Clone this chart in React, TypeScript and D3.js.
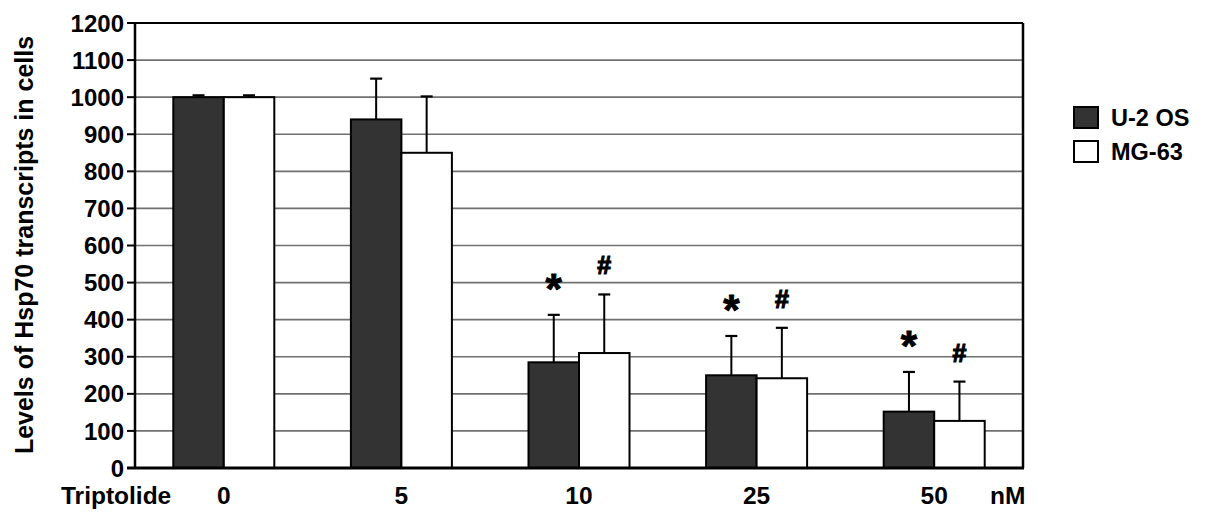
import React from "react";
import * as d3 from "d3";

const categories = ["0", "5", "10", "25", "50"];
const seriesNames = ["U-2 OS", "MG-63"];
const u2osValues = [1000, 940, 285, 250, 152];
const u2osErrors = [5, 110, 128, 106, 107];
const mg63Values = [1000, 850, 310, 242, 127];
const mg63Errors = [5, 152, 158, 136, 106];
const u2osMarks = ["", "", "*", "*", "*"];
const mg63Marks = ["", "", "#", "#", "#"];
const yTicks = [0, 100, 200, 300, 400, 500, 600, 700, 800, 900, 1000, 1100, 1200];

const W = 1205, H = 522;
const M = { left: 135, right: 1023, top: 23, bottom: 468 };
const FONT = "'Liberation Sans', Arial, sans-serif";
const DARK = "#333333";

export default function App() {
  const x = d3.scaleBand<string>().domain(categories).range([M.left, M.right]).paddingInner(0).paddingOuter(0);
  const y = d3.scaleLinear().domain([0, 1200]).range([M.bottom, M.top]);
  const bw = 50.5;
  const series = [
    { name: seriesNames[0], vals: u2osValues, errs: u2osErrors, marks: u2osMarks, fill: DARK },
    { name: seriesNames[1], vals: mg63Values, errs: mg63Errors, marks: mg63Marks, fill: "#ffffff" },
  ];
  return (
    <svg width={W} height={H} style={{ display: "block", position: "absolute", left: 0, top: 0, background: "#fff" }}>
      <rect x={0} y={0} width={W} height={H} fill="#fff" />
      {yTicks.filter((t) => t > 0 && t < 1200).map((t) => (
        <line key={t} x1={M.left} x2={M.right} y1={y(t)} y2={y(t)} stroke="#707070" strokeWidth={1.6} />
      ))}
      {/* bars */}
      {categories.map((c, i) => {
        const cx = (x(c) as number) + x.bandwidth() / 2;
        return series.map((s, si) => {
          const bx = cx - bw + si * bw;
          const top = y(s.vals[i]);
          const et = y(s.vals[i] + s.errs[i]);
          const mx = bx + bw / 2;
          return (
            <g key={c + si}>
              <line x1={mx} x2={mx} y1={top} y2={et} stroke="#000" strokeWidth={2} />
              <line x1={mx - 6} x2={mx + 6} y1={et} y2={et} stroke="#000" strokeWidth={2.2} />
              <rect x={bx} y={top} width={bw} height={M.bottom - top} fill={s.fill} stroke="#000" strokeWidth={2} />
              {s.marks[i] === "*" && (
                <text x={mx} y={et - 12} textAnchor="middle" fontFamily={FONT} fontWeight="bold" fontSize={42} fill="#000" stroke="#000" strokeWidth={0.9}>*</text>
              )}
              {s.marks[i] === "#" && (
                <text x={mx} y={et - 20} textAnchor="middle" fontFamily={FONT} fontWeight="bold" fontSize={25} fill="#000" stroke="#000" strokeWidth={1.2}>#</text>
              )}
            </g>
          );
        });
      })}
      {/* frame */}
      <line x1={M.left} x2={M.right} y1={M.top} y2={M.top} stroke="#000" strokeWidth={2} />
      <line x1={M.right} x2={M.right} y1={M.top} y2={M.bottom} stroke="#000" strokeWidth={2.5} />
      <line x1={M.left} x2={M.left} y1={M.top} y2={M.bottom} stroke="#000" strokeWidth={2.5} />
      <line x1={M.left - 8} x2={M.right + 1} y1={M.bottom} y2={M.bottom} stroke="#000" strokeWidth={3} />
      {/* y ticks */}
      {yTicks.map((t) => (
        <g key={t}>
          <line x1={M.left - 8} x2={M.left} y1={y(t)} y2={y(t)} stroke="#000" strokeWidth={2} />
          <text x={M.left - 11} y={y(t)} dy="0.36em" textAnchor="end" fontFamily={FONT} fontWeight="bold" fontSize={24} fill="#000">{t}</text>
        </g>
      ))}
      <text transform={`translate(33,245) rotate(-90)`} textAnchor="middle" fontFamily={FONT} fontWeight="bold" fontSize={25} fill="#000">
        Levels of Hsp70 transcripts in cells
      </text>
      {/* x labels */}
      <text x={61} y={504} fontFamily={FONT} fontWeight="bold" fontSize={24.5} fill="#000">Triptolide</text>
      {categories.map((c) => (
        <text key={c} x={(x(c) as number) + x.bandwidth() / 2} y={504} textAnchor="middle" fontFamily={FONT} fontWeight="bold" fontSize={24.5} fill="#000">{c}</text>
      ))}
      <text x={990} y={504} fontFamily={FONT} fontWeight="bold" fontSize={24.5} fill="#000">nM</text>
      {/* legend */}
      {series.map((s, i) => (
        <g key={s.name}>
          <rect x={1074} y={107 + i * 34} width={24} height={21} fill={s.fill} stroke="#000" strokeWidth={2} />
          <text x={1111} y={118 + i * 34} dy="0.36em" fontFamily={FONT} fontWeight="bold" fontSize={23.5} fill="#000">{s.name}</text>
        </g>
      ))}
    </svg>
  );
}
